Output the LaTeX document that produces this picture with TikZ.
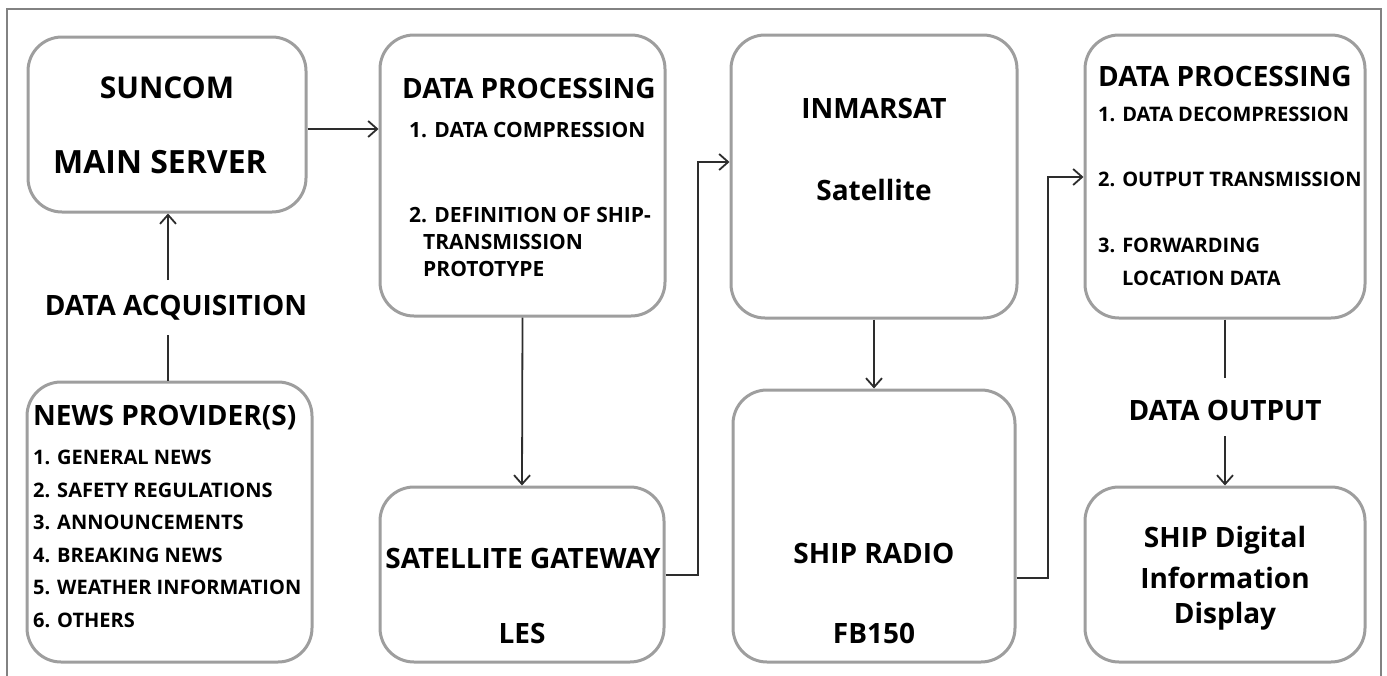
\documentclass[tikz,border=0pt]{standalone}
\usepackage{fontspec}
\setmainfont{Open Sans}[BoldFont={Open Sans Bold}]
\usetikzlibrary{arrows.meta}
\definecolor{boxgray}{RGB}{158,158,158}
\definecolor{linegray}{RGB}{45,45,45}
\definecolor{framegray}{RGB}{130,130,130}
\newcommand{\fsz}[1]{\fontsize{#1}{#1}\selectfont\bfseries}
\tikzset{
  box/.style={draw=boxgray, line width=3pt, rounded corners=34pt, fill=white, inner sep=0pt},
  big/.style={font=\fsz{28}, text=black, inner sep=0pt},
  mid/.style={font=\fsz{21}, text=black, inner sep=0pt},
  small/.style={font=\fsz{20}, text=black, inner sep=0pt},
  conn/.style={draw=linegray, line width=1.8pt, -{Straight Barb[length=9pt,width=16pt,line width=1.8pt]}},
  plain/.style={draw=linegray, line width=1.8pt}
}
\begin{document}
\begin{tikzpicture}[x=1pt,y=-1pt]
\useasboundingbox (0,0) rectangle (1387,675);
\begin{scope}
\clip (0,0) rectangle (1387,675);
\draw[framegray, line width=2pt] (7,700) -- (7,9) -- (1381,9) -- (1381,700);
\end{scope}
% boxes
\node[box, minimum width=278pt, minimum height=175pt] (suncom) at (167,124.5) {};
\node[box, minimum width=285pt, minimum height=281pt] (dp1) at (522.5,175.5) {};
\node[box, minimum width=286pt, minimum height=283pt] (inm) at (874,176.5) {};
\node[box, minimum width=280pt, minimum height=283pt] (dp2) at (1225,176.5) {};
\node[box, minimum width=285pt, minimum height=280pt] (news) at (169.5,522) {};
\node[box, minimum width=284pt, minimum height=175pt] (gate) at (522,574.5) {};
\node[box, minimum width=282pt, minimum height=272pt] (radio) at (874,526) {};
\node[box, minimum width=280pt, minimum height=175pt] (disp) at (1225,574.5) {};
% texts
\node[big, font=\fsz{30}] (t1) at (167,88) {SUNCOM};
\node[big, font=\fsz{32}] (t2) at (160,162) {MAIN SERVER};
\node[big, anchor=west] (t3) at (402,88) {DATA PROCESSING};
\node[mid, anchor=west] (t4) at (409,130) {1. DATA COMPRESSION};
\node[mid, anchor=west] (t5) at (409,215) {2. DEFINITION OF SHIP-};
\node[mid, anchor=west] (t6) at (423,242) {TRANSMISSION};
\node[mid, anchor=west] (t7) at (423,269) {PROTOTYPE};
\node[big] (t8) at (874,108) {INMARSAT};
\node[big] (t9) at (874,190) {Satellite};
\node[big, anchor=west] (t10) at (1098,76) {DATA PROCESSING};
\node[small, anchor=west] (t11) at (1098,114) {1. DATA DECOMPRESSION};
\node[small, anchor=west] (t12) at (1098,179) {2. OUTPUT TRANSMISSION};
\node[small, anchor=west] (t13) at (1098,245) {3. FORWARDING};
\node[small, anchor=west] (t14) at (1122,278) {LOCATION DATA};
\node[big, anchor=west] (t15) at (33,418) {NEWS PROVIDER(S)};
\node[small, anchor=west] (n1) at (33,457) {1. GENERAL NEWS};
\node[small, anchor=west] (n2) at (33,490) {2. SAFETY REGULATIONS};
\node[small, anchor=west] (n3) at (33,522) {3. ANNOUNCEMENTS};
\node[small, anchor=west] (n4) at (33,555) {4. BREAKING NEWS};
\node[small, anchor=west] (n5) at (33,587) {5. WEATHER INFORMATION};
\node[small, anchor=west] (n6) at (33,620) {6. OTHERS};
\node[big] (t16) at (523,558) {SATELLITE GATEWAY};
\node[big] (t17) at (522,633) {LES};
\node[big] (t18) at (874,553) {SHIP RADIO};
\node[big] (t19) at (874,633) {FB150};
\node[big] (t20) at (1225,540) {SHIP Digital};
\node[big] (t21) at (1225,578) {Information};
\node[big] (t22) at (1225,616) {Display};
\node[big] (acq) at (176,308) {DATA ACQUISITION};
\node[big] (out) at (1225,410) {DATA OUTPUT};
% connectors
\coordinate (a1) at (suncom.east |- 0,129);
\coordinate (a2) at (dp1.west |- 0,129);
\draw[conn] (a1) -- (a2);
\draw[plain] (news.north -| 168,0) -- (168,335);
\draw[conn] (168,280) -- (suncom.south -| 168,0);
\draw[conn] (dp1.south) -- (gate.north);
\coordinate (g1) at (gate.east |- 0,575);
\coordinate (g2) at (698,575);
\coordinate (g3) at (698,162);
\coordinate (g4) at (inm.west |- 0,162);
\draw[conn] (g1) -- (g2) -- (g3) -- (g4);
\draw[conn] (inm.south) -- (radio.north);
\coordinate (r1) at (radio.east |- 0,578);
\coordinate (r2) at (1048,578);
\coordinate (r3) at (1048,177);
\coordinate (r4) at (dp2.west |- 0,177);
\draw[conn] (r1) -- (r2) -- (r3) -- (r4);
\draw[plain] (dp2.south) -- (1225,378);
\draw[conn] (1225,436) -- (disp.north);
\end{tikzpicture}
\end{document}
